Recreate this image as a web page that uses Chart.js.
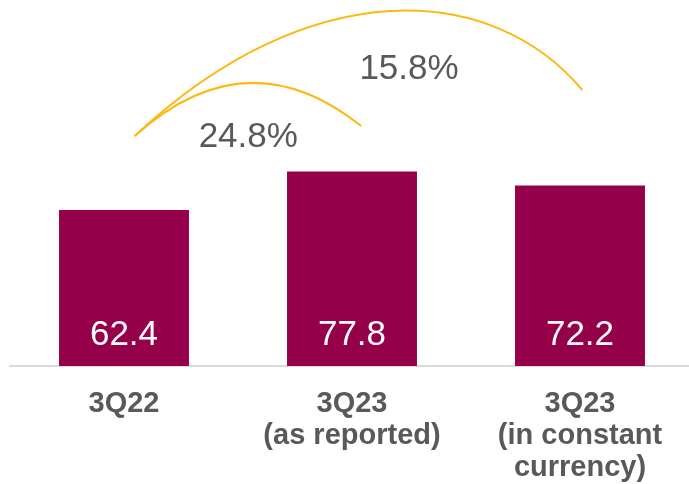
<!DOCTYPE html>
<html>
<head>
<meta charset="utf-8">
<script src="https://cdn.jsdelivr.net/npm/chart.js@4.4.1/dist/chart.umd.min.js"></script>
<style>
  html, body { margin: 0; padding: 0; background: #ffffff; overflow: hidden; }
  #wrap { width: 689px; height: 484px; overflow: hidden; }
  canvas { display: block; }
</style>
</head>
<body>
<div id="wrap"><canvas id="chart" width="694" height="484"></canvas></div>
<script>
// Quarterly figures
const categories = [
  ['3Q22'],
  ['3Q23', '(as reported)'],
  ['3Q23', '(in constant', 'currency)']
];
const values = [62.4, 77.8, 72.2];
const growthLabels = ['24.8%', '15.8%'];

const BAR_COLOR = '#95004A';
const ARC_COLOR = '#FDB913';
const TEXT_GREY = '#595959';
const FONT = '"Liberation Sans", Arial, Helvetica, sans-serif';

// Growth arcs: cubic curves from the first bar to a later bar, given in
// (category index, value) units so they follow the scales; text is the
// baseline-centre of the percentage.
const growthArcs = [
  { label: 0, pts: [[0.047, 92], [0.398, 120.8], [0.732, 118.4], [1.04, 96]], text: [0.545, 87.7] },
  { label: 1, pts: [[0.047, 92], [0.816, 157.6], [1.615, 153.6], [2.01, 110.4]], text: [1.25, 114.8] }
];

const annotations = {
  id: 'annotations',
  afterDatasetsDraw(chart) {
    const ctx = chart.ctx;
    const xs = chart.scales.x, ys = chart.scales.y;
    const px = (p) => [xs.getPixelForValue(p[0]), ys.getPixelForValue(p[1])];

    // values inside the bars
    const meta = chart.getDatasetMeta(0);
    ctx.save();
    ctx.fillStyle = '#ffffff';
    ctx.font = '35px ' + FONT;
    ctx.textAlign = 'center';
    ctx.textBaseline = 'alphabetic';
    meta.data.forEach((bar, i) => {
      ctx.fillText(values[i].toFixed(1), bar.x, ys.getPixelForValue(0) - 21);
    });
    ctx.restore();

    // arcs and growth percentages
    ctx.save();
    ctx.strokeStyle = ARC_COLOR;
    ctx.lineWidth = 2;
    growthArcs.forEach(a => {
      const [p0, p1, p2, p3] = a.pts.map(px);
      ctx.beginPath();
      ctx.moveTo(p0[0], p0[1]);
      ctx.bezierCurveTo(p1[0], p1[1], p2[0], p2[1], p3[0], p3[1]);
      ctx.stroke();
    });
    ctx.fillStyle = TEXT_GREY;
    ctx.font = '35px ' + FONT;
    ctx.textAlign = 'center';
    ctx.textBaseline = 'alphabetic';
    growthArcs.forEach(a => {
      const t = px(a.text);
      ctx.fillText(growthLabels[a.label], t[0], t[1]);
    });
    ctx.restore();
  }
};

new Chart(document.getElementById('chart'), {
  type: 'bar',
  data: {
    labels: categories,
    datasets: [{
      data: values,
      backgroundColor: BAR_COLOR,
      borderWidth: 0,
      barPercentage: 0.57,
      categoryPercentage: 1.0
    }]
  },
  options: {
    responsive: false,
    animation: false,
    layout: { padding: { left: 10, right: 0, top: 0, bottom: 0 } },
    plugins: { legend: { display: false }, tooltip: { enabled: false } },
    scales: {
      x: {
        grid: { display: false },
        border: { display: true, color: '#dadada', width: 2 },
        ticks: {
          color: TEXT_GREY,
          padding: 14,
          maxRotation: 0,
          autoSkip: false,
          font: { family: FONT, size: 29, weight: 'bold', lineHeight: 1.1 }
        },
        afterFit(scale) { scale.height = 118; }
      },
      y: {
        display: false,
        min: 0,
        max: 146.4
      }
    }
  },
  plugins: [annotations]
});
</script>
</body>
</html>
